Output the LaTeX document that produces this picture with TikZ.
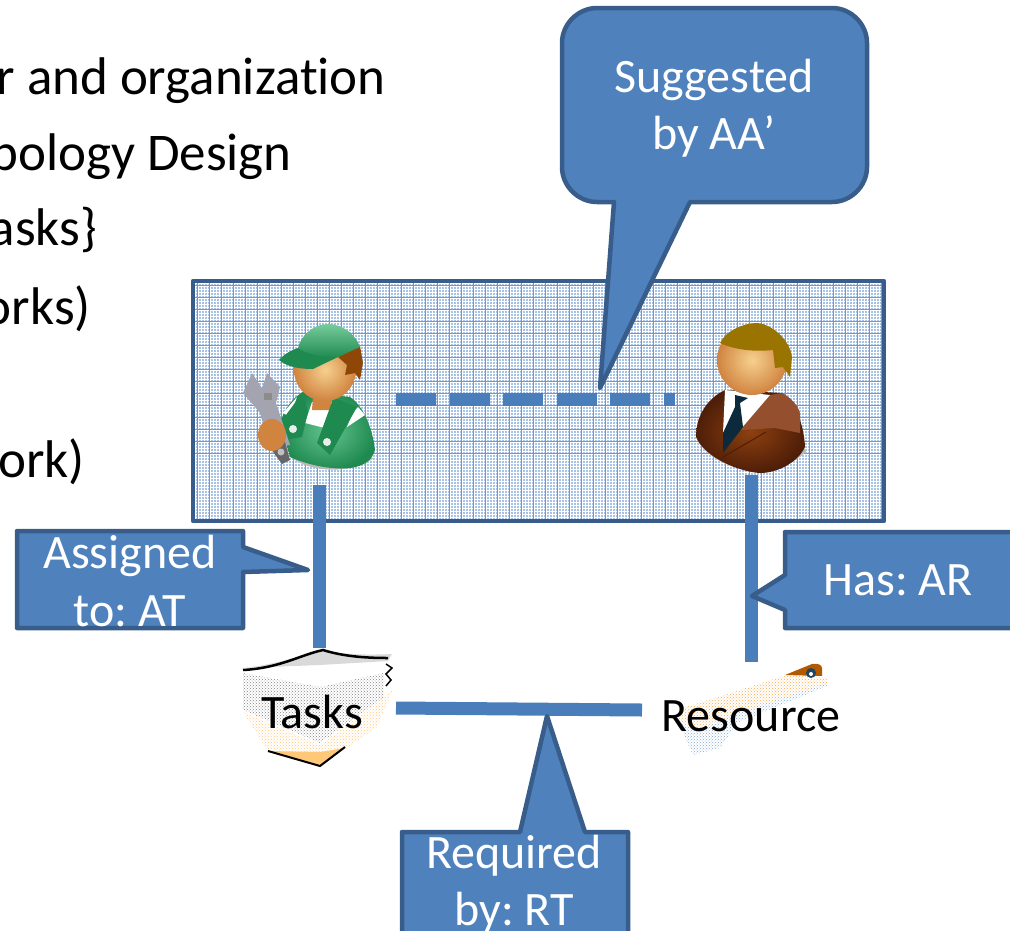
\documentclass[tikz,border=0pt]{standalone}
\usepackage{fontspec}
\setmainfont[Ligatures=NoCommon]{Carlito}
\usetikzlibrary{patterns}
\definecolor{cfill}{HTML}{4F81BD}
\definecolor{cedge}{HTML}{385D8A}
\definecolor{linkc}{HTML}{4A7EBB}
\definecolor{patbase}{HTML}{A9C3E6}
\definecolor{patline}{HTML}{7099D0}
\definecolor{gfront}{HTML}{3CB572}
\definecolor{gdark}{HTML}{1F8A50}
\definecolor{skin}{HTML}{E5A05C}
\definecolor{skinl}{HTML}{F7D08E}
\definecolor{skind}{HTML}{D08440}
\definecolor{hairw}{HTML}{8F4708}
\definecolor{hairm}{HTML}{9A7400}
\definecolor{suit}{HTML}{7A3512}
\definecolor{suitl}{HTML}{94502E}
\definecolor{suitd}{HTML}{4E1E08}
\definecolor{tiec}{HTML}{0C2A3C}
\definecolor{wgray}{HTML}{A4A4B0}
\definecolor{papor}{HTML}{FFC878}
\tikzset{
  x=1pt,y=-1pt,
  callout/.style={draw=cedge,line width=4.5pt,fill=cfill,line join=round},
  ctext/.style={text=white,font=\fontsize{48}{57.5}\selectfont\frenchspacing,align=center,inner sep=0pt},
  body/.style={text=black,font=\fontsize{53}{60}\selectfont\frenchspacing,anchor=base east,inner sep=0pt},
  label/.style={text=black,font=\fontsize{48}{58}\selectfont,inner sep=0pt},
  link/.style={draw=linkc,line width=13pt},
  linkdash/.style={draw=linkc,line width=13pt,dash pattern=on 40pt off 13.5pt},
  skinball/.style={shading=radial,inner color=skinl,outer color=skind},
}
\begin{document}
\begin{tikzpicture}
\useasboundingbox (0,0) rectangle (1010,930);
\clip (0,0) rectangle (1010,930);
% bullet text
\node[body] (t1) at (386,94) {r and organization};
\node[body] (t2) at (292,170) {pology Design};
\node[body] (t3) at (97,245) {asks\}};
\node[body] (t4) at (91,324) {orks)};
\node[body] (t5) at (85,477) {ork)};
% team box
\fill[patbase] (193,281) rectangle (884,521);
\foreach \x in {195,198,...,882} \draw[white,line width=0.55pt] (\x,283) -- (\x,519);
\foreach \y in {283,286,...,519} \draw[white,line width=0.55pt] (195,\y) -- (882,\y);
\foreach \x in {197,209,...,882} \draw[patline,line width=1pt] (\x,283) -- (\x,519);
\foreach \y in {285,297,...,462} \draw[patline,line width=1pt] (195,\y) -- (882,\y);
\draw[cedge,line width=4.5pt,line join=round] (193,281) rectangle (884,521);
% end points of the connectors
\coordinate (workerTop) at (396,399);
\coordinate (workerBottom) at (319,485);
\coordinate (managerLeft) at (675,399);
\coordinate (managerBottom) at (751,475);
\coordinate (tasksTop) at (319,648);
\coordinate (tasksRight) at (396,708);
\coordinate (resTop) at (751,662);
\coordinate (resLeft) at (642,710);
% worker
\fill[gray!55] (292,458) .. controls (310,472) and (350,475) .. (374,458) -- (360,455) -- (300,450) -- cycle;
\shade[shading=radial,inner color=gfront!80!white,outer color=gdark] (280,423) .. controls (284,410) and (292,398) .. (303,392) -- (350,397) .. controls (362,405) and (372,425) .. (375,450) .. controls (372,460) and (365,466) .. (350,468) .. controls (335,470) and (310,466) .. (290,457) -- cycle;
\fill[white] (283,413) -- (297,397) -- (290,417) -- cycle;
\fill[white] (312,402) -- (332,402) -- (325,428) -- (305,423) -- cycle;
\fill[white] (358,407) -- (365,415) -- (347,427) -- (353,412) -- cycle;
\fill[skind] (313,396) -- (333,396) -- (330,410) -- (312,410) -- cycle;
\fill[gdark] (303,392) -- (280,423) -- (285,440) -- (302,437) -- (308,412) -- cycle;
\fill[gdark] (335,398) -- (357,407) -- (330,455) -- (317,443) -- (332,402) -- cycle;
\fill[white!85!gray] (293,429) circle (4);
\fill[white!85!gray] (327,442) circle (4);
% wrench
\fill[wgray] (243,393) -- (252,373) -- (262,388) -- (267,373) -- (280,387) -- (276,403) -- (290,445) -- (270,447) -- (260,413) -- cycle;
\fill[black!60] (268,445) -- (285,442) -- (290,460) -- (282,464) -- cycle;
\fill[wgray!70] (281,452) circle (3.5);
\fill[black!45] (264,393) rectangle (272,400);
\fill[skind] (272,435) ellipse (14 and 16);
% worker head
\shade[skinball] (325,370) circle (31);
\fill[hairw] (338,357) -- (360,346) -- (363,363) -- (360,380) -- (355,373) -- (345,375) -- (347,365) -- cycle;
\shade[top color=gfront!70!white,bottom color=gdark] (298,348) .. controls (301,335) and (314,324) .. (328,324) .. controls (343,324) and (356,335) .. (360,347) -- (338,357) -- (300,358) -- cycle;
\fill[gdark] (279,360) .. controls (284,354) and (292,350) .. (298,348) .. controls (306,354) and (322,358) .. (338,357) -- (313,369) .. controls (303,369) and (288,368) .. (279,360) -- cycle;
% manager
\fill[gray!55] (697,440) .. controls (715,470) and (770,484) .. (806,452) -- (800,440) -- cycle;
\shade[shading=radial,inner color=suit!85!orange,outer color=suitd] (725,390) -- (782,393) .. controls (795,400) and (804,425) .. (805,447) .. controls (798,462) and (778,473) .. (760,473) .. controls (740,472) and (705,458) .. (696,437) .. controls (696,415) and (708,398) .. (725,390) -- cycle;
\fill[suitl] (770,395) -- (782,393) .. controls (790,397) and (798,405) .. (800,413) -- (800,433) -- (775,428) -- (740,430) -- cycle;
\fill[white] (725,390) -- (770,395) -- (740,430) -- (723,433) -- cycle;
\fill[tiec] (735,395) -- (748,398) -- (740,403) -- (743,427) -- (723,453) -- (723,433) -- (735,407) -- cycle;
\draw[suitd,line width=1pt] (766,432) -- (723,457);
\shade[skinball] (752,360) circle (35);
\fill[hairm] (720,343) .. controls (725,332) and (742,323) .. (757,323) .. controls (772,324) and (790,340) .. (792,357) -- (790,377) -- (783,367) -- (775,368) -- (773,350) .. controls (755,352) and (735,350) .. (720,343) -- cycle;
% tasks icon
\fill[pattern=crosshatch dots,pattern color=papor] (243,712) -- (320,745) -- (393,690) -- (377,727) -- (320,767) -- (268,751) -- cycle;
\fill[papor] (268,751) -- (320,766) -- (345,748) -- (320,752) -- cycle;
\draw[black,line width=2pt] (268,751) -- (320,766) -- (345,747);
\fill[pattern=crosshatch dots,pattern color=gray] (243,673) -- (320,687) -- (384,673) -- (384,697) -- (320,743) -- (243,710) -- cycle;
\fill[black!15!white] (243,668) .. controls (280,664) and (300,655) .. (323,650) .. controls (345,655) and (370,655) .. (392,654) -- (388,661) -- (320,665) -- cycle;
\draw[black,line width=2.5pt] (243,670) .. controls (280,668) and (300,655) .. (323,650) .. controls (345,657) and (370,658) .. (388,658);
\draw[black,line width=1.5pt] (386,664) -- (392,668) -- (386,674) -- (391,680) -- (386,686);
% resource icon
\fill[pattern=crosshatch dots,pattern color=papor!60!orange] (683,708) -- (787,675) -- (827,678) -- (827,683) -- (737,713) -- (700,730) -- (678,722) -- cycle;
\fill[pattern=crosshatch dots,pattern color=cfill!70] (678,722) -- (700,730) -- (737,713) -- (827,683) -- (827,686) -- (737,723) -- (720,748) -- (693,755) -- cycle;
\fill[orange!70!black] (785,675) -- (812,664) .. controls (818,663) and (822,665) .. (822,668) -- (822,676) -- cycle;
\fill[tiec!70!cfill] (811,673) circle (5);
\fill[white] (811,674) circle (2);
% connectors
\draw[link] (workerBottom) -- (tasksTop);
\draw[link] (managerBottom) -- (resTop);
\draw[link] (tasksRight) -- (resLeft);
\draw[linkdash] (workerTop) -- (managerLeft);
% callouts
\draw[callout] (597,8) -- (832,8) .. controls (851,8) and (867,24) .. (867,43) -- (867,167) .. controls (867,186) and (851,202) .. (832,202) -- (690,202) -- (600,388) -- (614,202) -- (597,202) .. controls (578,202) and (562,186) .. (562,167) -- (562,43) .. controls (562,24) and (578,8) .. (597,8) -- cycle;
\node[ctext] (sugg) at (714,108) {Suggested\\by AA’};
\draw[callout] (17,531) -- (243,531) -- (243,547) -- (308,570) -- (243,572) -- (243,628) -- (17,628) -- cycle;
\node[ctext] (assig) at (130,581) {Assigned\\to: AT};
\draw[callout] (785,532) -- (1015,532) -- (1015,628) -- (785,628) -- (785,610) -- (752,596) -- (785,575) -- cycle;
\node[ctext] (has) at (898,580) {Has: AR};
\draw[callout] (402,832) -- (520,832) -- (547,716) -- (585,832) -- (628,832) -- (628,935) -- (402,935) -- cycle;
\node[ctext] (req) at (514,884) {Required\\by: RT};
% labels
\node[label] (tasks) at (312,712) {Tasks};
\node[label] (resource) at (751,716) {Resource};
\end{tikzpicture}
\end{document}
